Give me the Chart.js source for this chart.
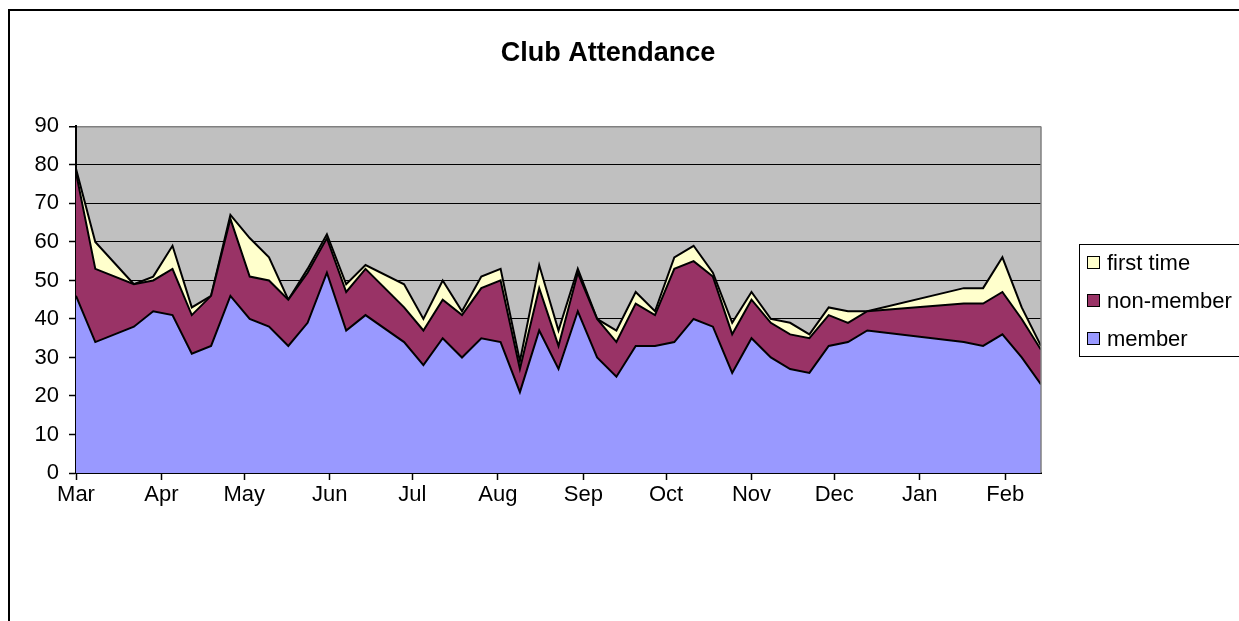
<!DOCTYPE html>
<html>
<head>
<meta charset="utf-8">
<script src="https://cdn.jsdelivr.net/npm/chart.js@4.4.1/dist/chart.umd.min.js"></script>
<style>
  html, body { margin: 0; padding: 0; background: #fff; overflow: hidden; }
  #wrap { position: relative; width: 1239px; height: 621px; }
  #frame { position: absolute; left: 8px; top: 9px; width: 1300px; height: 700px;
           border-top: 2px solid #000; border-left: 2px solid #000; }
  canvas { position: absolute; left: 0; top: 0; }
</style>
</head>
<body>
<div id="wrap">
  <div id="frame"></div>
  <canvas id="c" width="1239" height="621"></canvas>
</div>
<script>
// ---- data ----
const dates = [
  "2006-03-01","2006-03-08","2006-03-22","2006-03-29","2006-04-05","2006-04-12","2006-04-19","2006-04-26",
  "2006-05-03","2006-05-10","2006-05-17","2006-05-24","2006-05-31","2006-06-07","2006-06-14","2006-06-28",
  "2006-07-05","2006-07-12","2006-07-19","2006-07-26","2006-08-02","2006-08-09","2006-08-16","2006-08-23",
  "2006-08-30","2006-09-06","2006-09-13","2006-09-20","2006-09-27","2006-10-04","2006-10-11","2006-10-18",
  "2006-10-25","2006-11-01","2006-11-08","2006-11-15","2006-11-22","2006-11-29","2006-12-06","2006-12-13",
  "2007-01-17","2007-01-24","2007-01-31","2007-02-07","2007-02-14"
];
const member = [46,34,38,42,41,31,33,46, 40,38,33,39,52,37,41,34, 28,35,30,35,34,21,37,27,
                42,30,25,33,33,34,40,38, 26,35,30,27,26,33,34,37, 34,33,36,30,23];
const nonMember = [32,19,11,8,12,10,13,20, 11,12,12,13,9,10,12,9, 9,10,11,13,16,6,11,6,
                   10,10,9,11,8,19,15,13, 10,10,9,9,9,8,5,5, 10,11,11,10,9];
const firstTime = [1,7,0,1,6,2,0,1, 10,6,0,1,1,2,1,6, 3,5,1,3,3,2,6,4,
                   1,0,3,3,1,3,4,1, 3,2,1,3,1,2,3,0, 4,4,9,3,1];
const monthTicks = ["2006-03-01","2006-04-01","2006-05-01","2006-06-01","2006-07-01","2006-08-01",
                    "2006-09-01","2006-10-01","2006-11-01","2006-12-01","2007-01-01","2007-02-01"];
const monthLabels = ["Mar","Apr","May","Jun","Jul","Aug","Sep","Oct","Nov","Dec","Jan","Feb"];
const seriesNames = ["member","non-member","first time"];
const yTicks = [0,10,20,30,40,50,60,70,80,90];

// ---- helpers ----
const DAY = 86400000;
const base = Date.parse(dates[0] + "T00:00:00Z");
const toDay = s => Math.round((Date.parse(s + "T00:00:00Z") - base) / DAY);
const xs = dates.map(toDay);
const tickDays = monthTicks.map(toDay);
const pts = arr => arr.map((v, i) => ({ x: xs[i], y: v }));

const FONT = "'Liberation Sans', Arial, sans-serif";

const plotBg = {
  id: 'plotBg',
  beforeDraw(chart) {
    const { ctx, chartArea: a } = chart;
    ctx.save();
    ctx.fillStyle = '#C0C0C0';
    ctx.fillRect(a.left, a.top, a.right - a.left, a.bottom - a.top);
    ctx.restore();
  },
  afterDraw(chart) {
    const { ctx, chartArea: a } = chart;
    ctx.save();
    ctx.strokeStyle = '#808080';
    ctx.lineWidth = 1.5;
    ctx.beginPath();
    ctx.moveTo(a.right, a.top);
    ctx.lineTo(a.right, a.bottom);
    ctx.stroke();
    ctx.restore();
  }
};

const legendBox = {
  id: 'legendBox',
  afterDraw(chart) {
    const ctx = chart.ctx;
    ctx.save();
    ctx.fillStyle = '#fff';
    ctx.fillRect(1079, 244, 220, 112);
    ctx.strokeStyle = '#000';
    ctx.lineWidth = 1;
    ctx.strokeRect(1079.5, 244.5, 220, 112);
    const ds = chart.data.datasets.slice().reverse();
    const rowY = [263, 301, 339];
    ctx.font = '22px ' + FONT;
    ctx.textBaseline = 'middle';
    ds.forEach((d, i) => {
      const y = rowY[i];
      ctx.fillStyle = d.backgroundColor;
      ctx.fillRect(1087.5, y - 6.5, 12, 12);
      ctx.strokeStyle = '#000';
      ctx.lineWidth = 1;
      ctx.strokeRect(1087.5, y - 6.5, 12, 12);
      ctx.fillStyle = '#000';
      ctx.fillText(d.label, 1107, y + 1);
    });
    ctx.restore();
  }
};

new Chart(document.getElementById('c'), {
  type: 'line',
  data: {
    datasets: [
      { label: seriesNames[0], data: pts(member), backgroundColor: '#9999FF', borderColor: '#000',
        borderWidth: 2, fill: 'origin', pointRadius: 0, tension: 0 },
      { label: seriesNames[1], data: pts(nonMember), backgroundColor: '#993366', borderColor: '#000',
        borderWidth: 2, fill: '-1', pointRadius: 0, tension: 0 },
      { label: seriesNames[2], data: pts(firstTime), backgroundColor: '#FFFFCC', borderColor: '#000',
        borderWidth: 2, fill: '-1', pointRadius: 0, tension: 0 }
    ]
  },
  options: {
    responsive: false,
    animation: false,
    devicePixelRatio: 1,
    layout: { padding: { left: 0, right: 23, top: 0, bottom: 108 } },
    plugins: {
      legend: { display: false },
      tooltip: { enabled: false },
      title: {
        display: true,
        text: 'Club Attendance',
        color: '#000',
        font: { family: FONT, size: 27, weight: 'bold', lineHeight: 1.2 },
        padding: { top: 37, bottom: 57 }
      }
    },
    scales: {
      x: {
        type: 'linear',
        min: xs[0],
        max: xs[xs.length - 1],
        afterBuildTicks: s => { s.ticks = tickDays.map(v => ({ value: v })); },
        afterFit: s => { s.height = 40; },
        ticks: {
          autoSkip: false, maxRotation: 0, minRotation: 0, padding: 2,
          color: '#000', font: { family: FONT, size: 22 },
          callback: v => { const i = tickDays.indexOf(v); return i >= 0 ? monthLabels[i] : ''; }
        },
        grid: { drawOnChartArea: false, drawTicks: true, tickLength: 7, tickColor: '#000', tickWidth: 1.5 },
        border: { display: true, color: '#000', width: 2 }
      },
      y: {
        stacked: true,
        min: 0,
        max: 90,
        afterBuildTicks: s => { s.ticks = yTicks.map(v => ({ value: v })); },
        afterFit: s => { s.width = 76; },
        ticks: { color: '#000', font: { family: FONT, size: 22 }, padding: 10 },
        grid: {
          color: c => (c.tick && c.tick.value === 90) ? '#808080' : '#000',
          lineWidth: c => (c.tick && c.tick.value === 90) ? 1.5 : 1,
          tickColor: '#000', tickLength: 7, tickWidth: 1.5
        },
        border: { display: true, color: '#000', width: 2 }
      },
      legendSpace: {
        type: 'linear',
        position: 'right',
        display: true,
        afterFit: s => { s.width = 175; },
        ticks: { display: false },
        grid: { display: false, drawOnChartArea: false },
        border: { display: false }
      }
    }
  },
  plugins: [plotBg, legendBox]
});
</script>
</body>
</html>
